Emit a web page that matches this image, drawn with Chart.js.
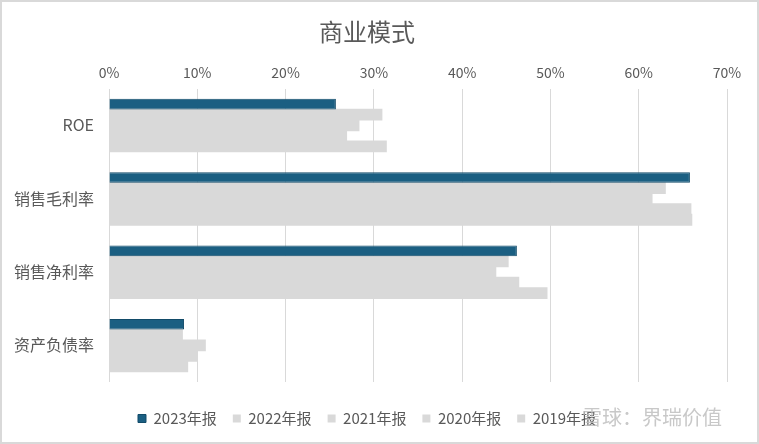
<!DOCTYPE html>
<html>
<head>
<meta charset="utf-8">
<script src="https://cdn.jsdelivr.net/npm/chart.js@4"></script>
<style>
    html, body { margin: 0; padding: 0; background: #fff; }
    #wrap { position: relative; width: 755px; height: 440px; border: 2px solid #d9d9d9; }
    #mark { position: absolute; left: 580px; top: 400px; font: 20px "Noto Sans CJK SC"; color: rgba(190,190,190,0.85); }
</style>
</head>
<body>
<div id="wrap">
    <canvas id="chart" width="755" height="440"></canvas>
    <div id="mark">雪球：界瑞价值</div>
</div>
<script>
const categories = ["ROE", "销售毛利率", "销售净利率", "资产负债率"];
const seriesNames = ["2023年报", "2022年报", "2021年报", "2020年报", "2019年报"];
const values2023 = [25.7, 65.8, 46.2, 8.5];
const values2022 = [30.9, 63.0, 45.2, 8.3];
const values2021 = [28.3, 61.5, 43.8, 10.9];
const values2020 = [26.9, 65.9, 46.4, 10.0];
const values2019 = [31.4, 66.0, 49.6, 8.9];
const xTicks = [0, 10, 20, 30, 40, 50, 60, 70];

document.addEventListener("DOMContentLoaded", () => {
    const allValues = [values2023, values2022, values2021, values2020, values2019];
    const fills = ["#1b5f82", "#d9d9d9", "#d9d9d9", "#d9d9d9", "#d9d9d9"];
    const borders = ["#124b69", "#d9d9d9", "#d9d9d9", "#d9d9d9", "#d9d9d9"];
    const font = "'Noto Sans CJK SC', 'Noto Sans', sans-serif";

    const ctx = document.getElementById("chart").getContext("2d");
    new Chart(ctx, {
        type: "bar",
        data: {
            labels: categories,
            datasets: seriesNames.map((name, i) => ({
                label: name,
                data: allValues[i],
                backgroundColor: fills[i],
                borderColor: borders[i],
                borderWidth: i === 0 ? 1 : 0,
                inflateAmount: i === 0 ? 0 : 0.6,
                categoryPercentage: 0.72,
                barPercentage: 1.0,
            })),
        },
        options: {
            indexAxis: "y",
            responsive: false,
            animation: false,
            layout: { padding: { left: 5, right: 30, top: 2, bottom: 6 } },
            scales: {
                x: {
                    position: "top",
                    min: 0,
                    max: 70,
                    afterBuildTicks: (axis) => {
                        axis.ticks = xTicks.map((v) => ({ value: v }));
                    },
                    ticks: {
                        callback: (v) => v + "%",
                        color: "#595959",
                        font: { family: font, size: 14 },
                        padding: 8,
                    },
                    grid: { color: "#d9d9d9", drawTicks: false },
                    border: { display: false },
                },
                // empty spacer between the bars and the legend
                xGap: {
                    type: "linear",
                    axis: "x",
                    position: "bottom",
                    ticks: { display: false },
                    grid: { display: false },
                    border: { display: false },
                    afterFit: (scale) => {
                        scale.height = 13;
                    },
                },
                y: {
                    ticks: {
                        color: "#595959",
                        font: { family: font, size: 16 },
                        padding: 7,
                    },
                    grid: { display: false },
                    border: { display: false },
                },
            },
            plugins: {
                title: {
                    display: true,
                    text: "商业模式",
                    color: "#595959",
                    font: { family: font, size: 24, weight: "normal" },
                    padding: { top: 13, bottom: 10 },
                },
                legend: {
                    position: "bottom",
                    labels: {
                        boxWidth: 8,
                        boxHeight: 8,
                        color: "#595959",
                        font: { family: font, size: 15 },
                        padding: 16,
                    },
                },
                tooltip: { enabled: false },
            },
        },
    });
});
</script>
</body>
</html>
